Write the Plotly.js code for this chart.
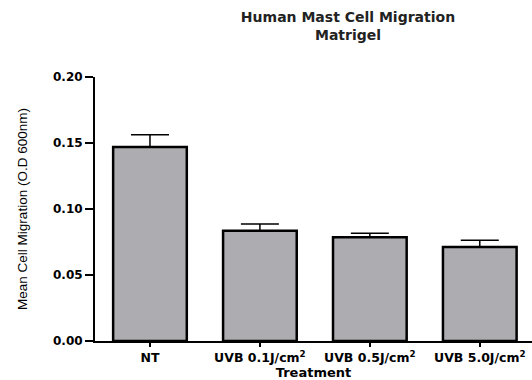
<!DOCTYPE html>
<html>
<head>
<meta charset="utf-8">
<script src="https://cdn.plot.ly/plotly-3.0.1.min.js"></script>
<style>html,body{margin:0;padding:0;background:#fff;}#chart{width:532px;height:380px;}</style>
</head>
<body>
<div id="chart"></div>
<script>
var categories = ["NT", "UVB 0.1J/cm<sup>2</sup>", "UVB 0.5J/cm<sup>2</sup>", "UVB 5.0J/cm<sup>2</sup>"];
var meanValues = [0.147, 0.0835, 0.0786, 0.0713];
var semValues = [0.0092, 0.0052, 0.0030, 0.0050];
var yTickVals = [0, 0.05, 0.10, 0.15, 0.20];
var yTickText = ["0.00", "0.05", "0.10", "0.15", "0.20"];

var trace = {
  type: 'bar',
  x: categories,
  y: meanValues,
  marker: {color: '#adacb1', line: {color: '#000', width: 2.5}},
  error_y: {type: 'data', array: semValues, arrayminus: semValues.map(function(){return 0;}), symmetric: false, color: '#000', thickness: 1.5, width: 19},
  hoverinfo: 'none'
};

var layout = {
  width: 532, height: 380,
  margin: {l: 95, r: 0, t: 77, b: 39},
  paper_bgcolor: '#fff', plot_bgcolor: '#fff',
  showlegend: false,
  bargap: 0.33,
  font: {family: 'DejaVu Sans, Arial, sans-serif', color: '#000'},
  title: {text: '<b>Human Mast Cell Migration<br>Matrigel</b>', x: 308/532, xref: 'paper', xanchor: 'center', y: 0.943, yanchor: 'top', font: {size: 14, family: 'DejaVu Sans, Arial, sans-serif', color: '#222'}},
  xaxis: {
    type: 'category',
    range: [-0.5, 3.475],
    showline: true, linecolor: '#000', linewidth: 2,
    ticks: 'outside', ticklen: 4, tickwidth: 2, tickcolor: '#000',
    showgrid: false, zeroline: false,
    tickfont: {size: 12.5, family: 'DejaVu Sans, Arial, sans-serif', weight: 'bold', color: '#000'},
    title: {text: '<b>Treatment</b>', standoff: 3, font: {size: 13, family: 'DejaVu Sans, Arial, sans-serif', color: '#000'}},
    automargin: false
  },
  yaxis: {
    range: [0, 0.2],
    tickvals: yTickVals, ticktext: yTickText,
    showline: true, linecolor: '#000', linewidth: 2,
    ticks: 'outside', ticklen: 8, tickwidth: 2, tickcolor: '#000',
    showgrid: false, zeroline: false,
    tickfont: {size: 12, family: 'DejaVu Sans, Arial, sans-serif', weight: 'bold', color: '#000'},
    title: {text: 'Mean Cell Migration (O.D 600nm)', standoff: 22, font: {size: 13.5, family: 'Liberation Sans, Arial, sans-serif', color: '#000'}},
    automargin: false
  }
};

Plotly.newPlot('chart', [trace], layout, {displayModeBar: false, staticPlot: true});
</script>
</body>
</html>
